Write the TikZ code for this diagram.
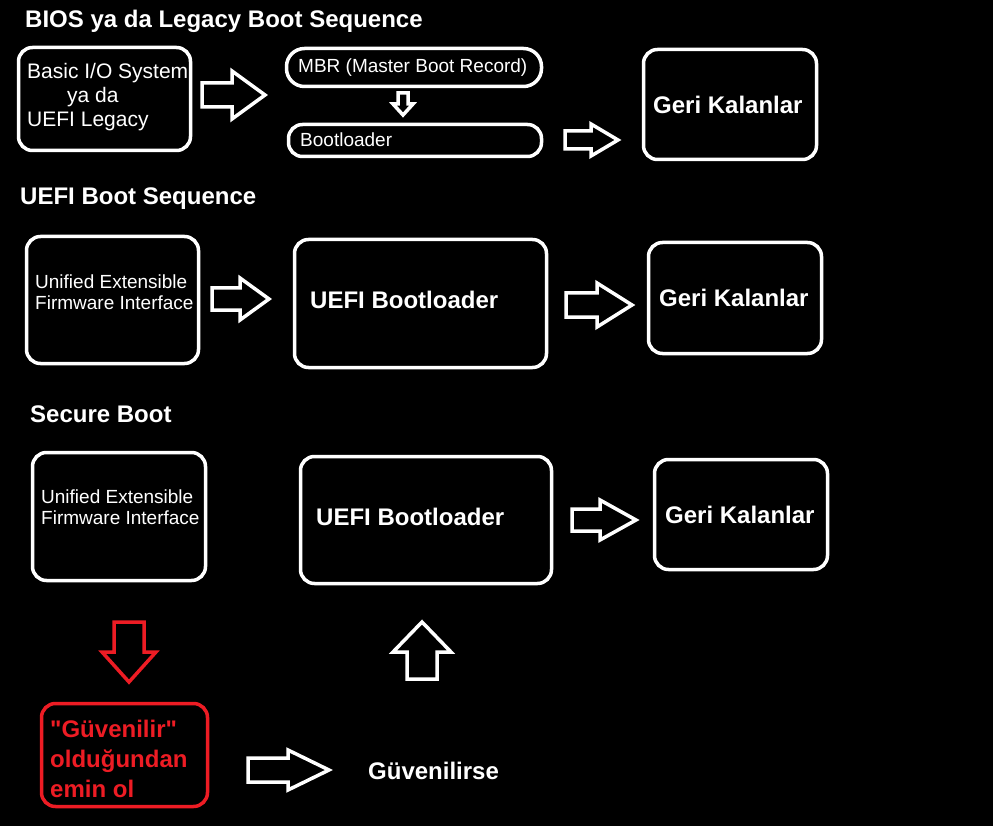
\documentclass[tikz,border=0pt]{standalone}
\usepackage{fontspec}
\setmainfont{Liberation Sans}
\usepackage{tikz}
\usetikzlibrary{positioning}
\definecolor{paintred}{HTML}{ED1C24}
\tikzset{
	kbox/.style={draw=white, line width=3.5pt, rounded corners=14pt, inner sep=0pt},
	redbox/.style={kbox, draw=paintred},
	blockarrow/.style={draw=white, line width=3.5pt, fill=black},
	redarrow/.style={blockarrow, draw=paintred},
	title/.style={text=white, font=\bfseries\fontsize{24}{28}\selectfont, inner sep=0pt, anchor=west},
	bold/.style={title},
	txt/.style={text=white, font=\fontsize{21}{24}\selectfont, inner sep=0pt, anchor=west, align=left},
	small/.style={text=white, font=\fontsize{19}{21}\selectfont, inner sep=0pt, anchor=west, align=left}
}
% horizontal block arrow: style, tail x, head x, tip x, mid y, shaft half, head half
\newcommand{\harr}[7]{\draw[#1] (#2,#5-#6) -- (#3,#5-#6) -- (#3,#5-#7) -- (#4,#5) -- (#3,#5+#7) -- (#3,#5+#6) -- (#2,#5+#6) -- cycle;}
% vertical block arrow: style, tail y, head y, tip y, mid x, shaft half, head half
\newcommand{\varr}[7]{\draw[#1] (#5-#6,#2) -- (#5-#6,#3) -- (#5-#7,#3) -- (#5,#4) -- (#5+#7,#3) -- (#5+#6,#3) -- (#5+#6,#2) -- cycle;}
\begin{document}
\begin{tikzpicture}[x=1pt, y=-1pt]
  \fill[black] (0,0) rectangle (993,826);
  \useasboundingbox (0,0) rectangle (993,826);

  % BIOS
  \node (t1) at (25,21.5) [title] {BIOS ya da Legacy Boot Sequence};
  \node (bios) at (104.5,99) [kbox, minimum width=172pt, minimum height=103pt] {};
  \node (biostxt) at (27,97) [txt] {Basic I/O System\\\hspace*{40pt}ya da\\UEFI Legacy};
  \node (mbr) at (414,67.5) [kbox, rounded corners=18pt, minimum width=255pt, minimum height=38pt] {};
  \node (mbrtxt) at (298,68) [small] {MBR (Master Boot Record)};
  \node (boot) at (415,140.5) [kbox, minimum width=253pt, minimum height=32pt] {};
  \node (boottxt) at (300,140) [small] {Bootloader};
  \node (geri1) at (730,104.5) [kbox, minimum width=173pt, minimum height=110pt] {};
  \node (geri1txt) at (653,105) [bold] {Geri Kalanlar};
  \harr{blockarrow}{202}{232}{265}{95}{12}{24}
  \varr{blockarrow}{93}{104}{115}{403}{5}{10}
  \harr{blockarrow}{565}{591}{618}{140}{9}{16}

  % UEFI
  \node (t2) at (20,198.5) [title] {UEFI Boot Sequence};
  \node (uefi) at (112.5,300) [kbox, minimum width=172pt, minimum height=127pt] {};
  \node (uefitxt) at (35,292) [small] {Unified Extensible\\Firmware Interface};
  \node (uboot) at (420.5,303.5) [kbox, minimum width=252pt, minimum height=128pt] {};
  \node (uboottxt) at (310,300) [bold] {UEFI Bootloader};
  \node (geri2) at (735,298) [kbox, minimum width=173pt, minimum height=111pt] {};
  \node (geri2txt) at (659,298) [bold] {Geri Kalanlar};
  \harr{blockarrow}{212}{240}{269}{299}{11}{21}
  \harr{blockarrow}{566}{597}{632}{305}{12}{22}

  % Secure Boot
  \node (t3) at (30,414.5) [title] {Secure Boot};
  \node (sec) at (119,516.5) [kbox, minimum width=173pt, minimum height=128pt] {};
  \node (sectxt) at (41,507.5) [small] {Unified Extensible\\Firmware Interface};
  \node (sboot) at (426,520) [kbox, minimum width=251pt, minimum height=127pt] {};
  \node (sboottxt) at (316,517) [bold] {UEFI Bootloader};
  \node (geri3) at (741,514.5) [kbox, minimum width=173pt, minimum height=110pt] {};
  \node (geri3txt) at (665,515) [bold] {Geri Kalanlar};
  \harr{blockarrow}{572}{600}{636}{520}{11}{20}
  \varr{redarrow}{622}{652}{682}{129}{15}{27}
  \varr{blockarrow}{679}{652}{622}{422}{15}{29}
  \node (trust) at (124.5,755) [redbox, minimum width=166pt, minimum height=103pt] {};
  \node (trusttxt) at (50,759) [txt, text=paintred, font=\bfseries\fontsize{24}{30}\selectfont] {\textquotedbl Güvenilir\textquotedbl\\olduğundan\\emin ol};
  \harr{blockarrow}{248}{288}{329}{770}{12}{20}
  \node (ok) at (368,771) [bold] {Güvenilirse};
\end{tikzpicture}
\end{document}
